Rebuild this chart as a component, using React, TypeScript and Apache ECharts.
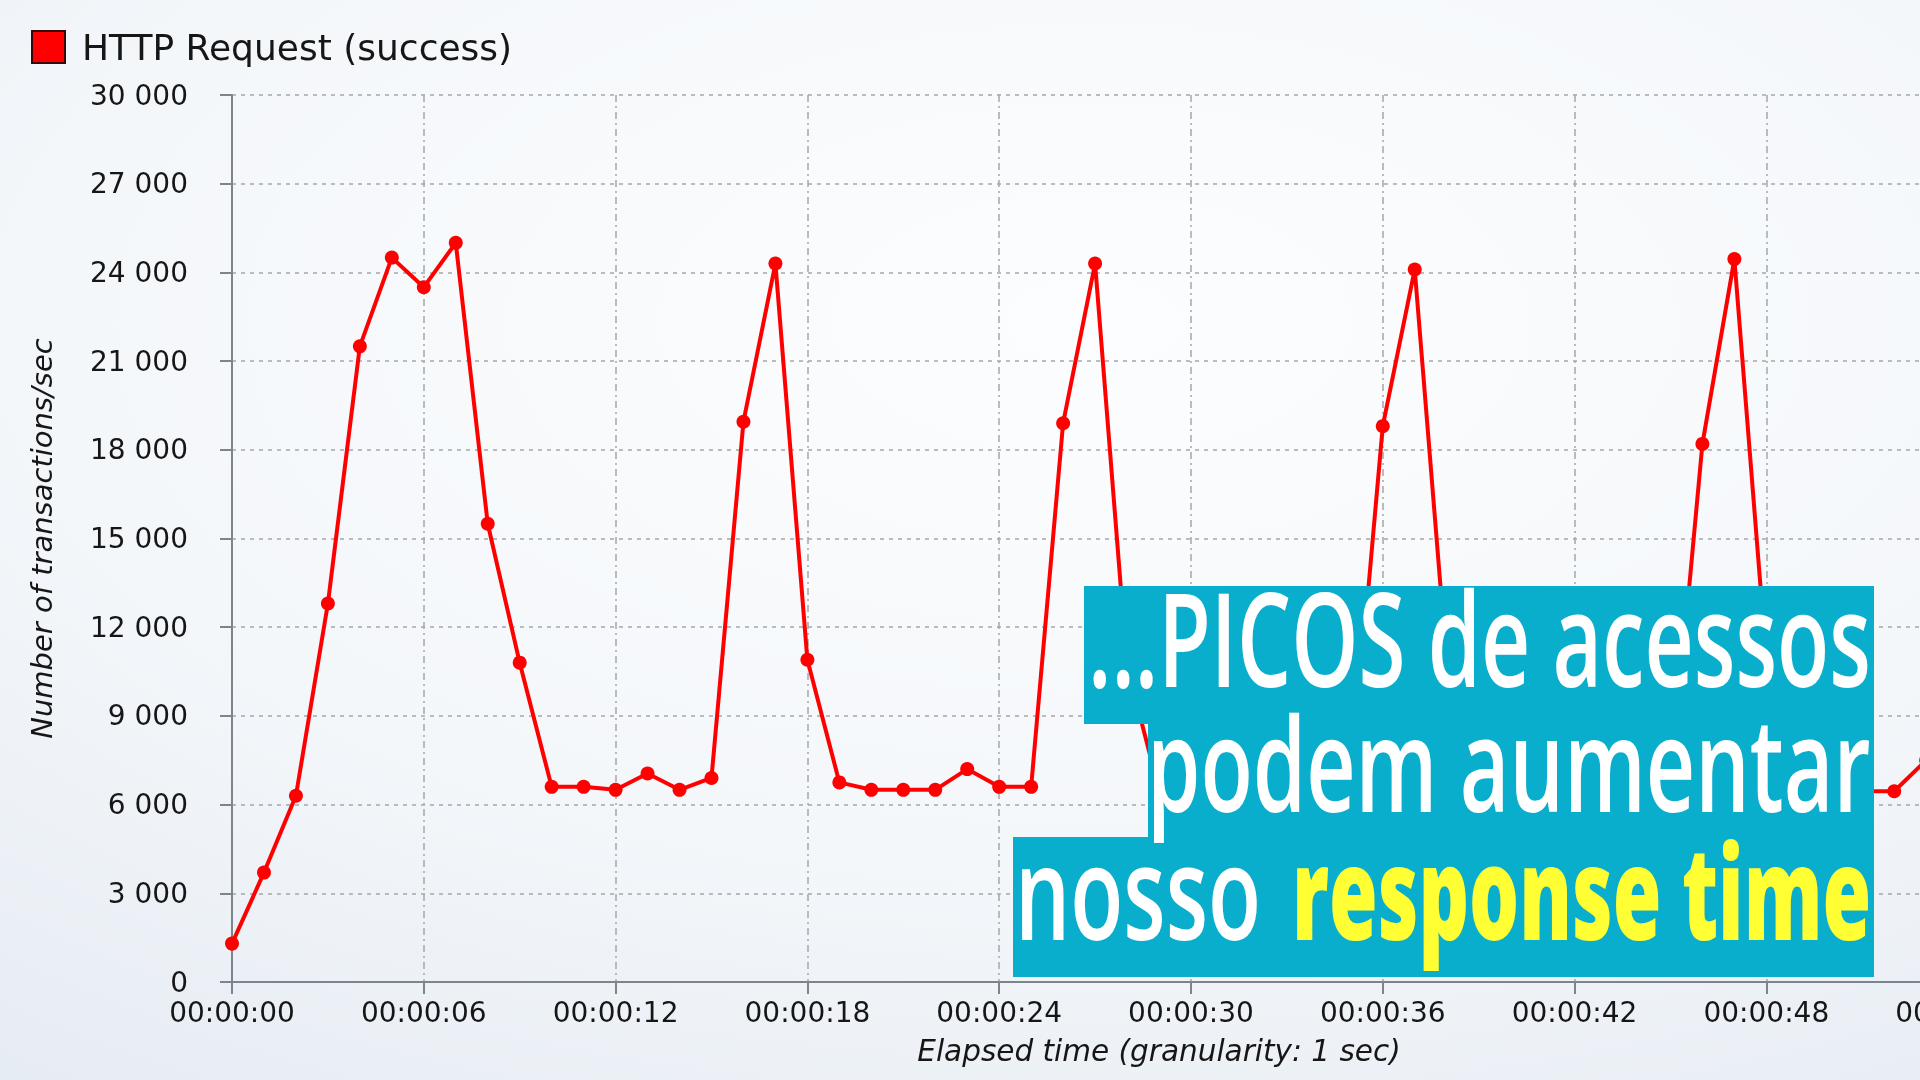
import React, { useEffect, useRef } from "react";
import * as echarts from "echarts";

// ---- data ----
const seriesName = "HTTP Request (success)";
const elapsedSeconds = [
  0, 1, 2, 3, 4, 5, 6, 7, 8, 9, 10, 11, 12, 13, 14, 15, 16, 17, 18, 19, 20, 21, 22, 23, 24, 25, 26,
  27, 28, 29, 30, 31, 32, 33, 34, 35, 36, 37, 38, 39, 40, 41, 42, 43, 44, 45, 46, 47, 48, 49, 50, 51,
  52, 53,
];
const transactionsPerSec = [
  1300, 3700, 6300, 12800, 21500, 24500, 23500, 25000, 15500, 10800, 6600, 6600, 6500, 7050, 6500,
  6900, 18950, 24300, 10900, 6750, 6500, 6500, 6500, 7200, 6600, 6600, 18900, 24300, 10700, 6500,
  6500, 6600, 6500, 7000, 6500, 6600, 18800, 24100, 10800, 6600, 6500, 6500, 6700, 6500, 6900, 6500,
  18200, 24450, 10900, 6700, 6500, 6450, 6450, 7500,
];
const yAxisTitle = "Number of transactions/sec";
const xAxisTitle = "Elapsed time (granularity: 1 sec)";
const yMin = 0;
const yMax = 30000;
const yStep = 3000;
const xMin = 0;
const xMax = 58;
const xStep = 6;

const overlayLine1 = "...PICOS de acessos";
const overlayLine2 = "podem aumentar";
const overlayLine3White = "nosso";
const overlayLine3Yellow = "response time";

const OVERLAY_FONT = "Open Sans";
const OVERLAY_SIZE = 130;
const CHART_WIDTH = 2100;

function measure(text: string, weight: number): number {
  const c = document.createElement("canvas").getContext("2d");
  if (!c) return text.length * OVERLAY_SIZE * 0.55;
  c.font = `${weight} ${OVERLAY_SIZE}px "${OVERLAY_FONT}"`;
  return c.measureText(text).width;
}

function thousands(v: number): string {
  return String(v).replace(/\B(?=(\d{3})+(?!\d))/g, " ");
}

function hms(v: number): string {
  const s = Math.round(v);
  const h = Math.floor(s / 3600);
  const m = Math.floor((s % 3600) / 60);
  const sec = s % 60;
  const p = (n: number) => String(n).padStart(2, "0");
  return `${p(h)}:${p(m)}:${p(sec)}`;
}

export default function App() {
  const ref = useRef<HTMLDivElement>(null);

  useEffect(() => {
    if (!ref.current) return;
    const chart = echarts.init(ref.current, undefined, { renderer: "svg" });

    const axisColor = "#7c848c";
    const textColor = "#161616";
    const gridColor = "#a6a6a6";
    const cyan = "#0aaecd";
    const centralOffset = 0.388 * OVERLAY_SIZE;

    const textEl = (
      text: string,
      left: number,
      right: number,
      baseline: number,
      color: string,
      weight: number
    ) => ({
      type: "text",
      x: left,
      y: baseline - centralOffset,
      scaleX: (right - left) / measure(text, weight),
      z: 110,
      style: {
        text,
        fill: color,
        fontFamily: OVERLAY_FONT,
        fontSize: OVERLAY_SIZE,
        fontWeight: weight,
        textAlign: "left",
        textVerticalAlign: "middle",
        verticalAlign: "middle",
      },
    });

    const option: any = {
      animation: false,
      backgroundColor: {
        type: "radial",
        x: 0.52,
        y: 0.3,
        r: 0.9,
        colorStops: [
          { offset: 0, color: "#fcfdfe" },
          { offset: 0.55, color: "#f4f7fa" },
          { offset: 1, color: "#e5ebf3" },
        ],
      },
      textStyle: { fontFamily: "DejaVu Sans" },
      legend: {
        show: true,
        data: [seriesName],
        left: 31,
        top: 29,
        padding: 0,
        icon: "rect",
        itemWidth: 33,
        itemHeight: 32,
        itemStyle: { color: "#ff0000", borderColor: "#3a0606", borderWidth: 2 },
        textStyle: {
          fontFamily: "DejaVu Sans",
          fontSize: 36,
          color: textColor,
          padding: [0, 0, 0, 12],
        },
      },
      grid: { left: 232, top: 95, right: CHART_WIDTH - 2086, bottom: 98 },
      xAxis: {
        type: "value",
        min: xMin,
        max: xMax,
        interval: xStep,
        name: xAxisTitle,
        nameLocation: "middle",
        nameGap: 54,
        nameTextStyle: {
          fontFamily: "DejaVu Sans",
          fontStyle: "italic",
          fontSize: 29.5,
          color: textColor,
        },
        axisLine: { show: true, onZero: false, lineStyle: { color: axisColor, width: 2 } },
        axisTick: { show: true, length: 12, lineStyle: { color: axisColor, width: 2 } },
        axisLabel: {
          fontFamily: "DejaVu Sans",
          fontSize: 28,
          color: textColor,
          margin: 16,
          showMaxLabel: false,
          formatter: (v: number) => hms(v),
        },
        splitLine: {
          show: true,
          lineStyle: { color: gridColor, width: 1.5, type: [7, 4, 2, 4] },
        },
      },
      yAxis: {
        type: "value",
        min: yMin,
        max: yMax,
        interval: yStep,
        name: yAxisTitle,
        nameLocation: "middle",
        nameGap: 176,
        nameTextStyle: {
          fontFamily: "DejaVu Sans",
          fontStyle: "italic",
          fontSize: 29,
          color: textColor,
        },
        axisLine: { show: true, lineStyle: { color: axisColor, width: 2 } },
        axisTick: { show: true, length: 12, lineStyle: { color: axisColor, width: 2 } },
        axisLabel: {
          fontFamily: "DejaVu Sans",
          fontSize: 28,
          color: textColor,
          margin: 44,
          formatter: (v: number) => thousands(v),
        },
        splitLine: {
          show: true,
          lineStyle: { color: gridColor, width: 1.5, type: [4, 5] },
        },
      },
      series: [
        {
          name: seriesName,
          type: "line",
          data: elapsedSeconds.map((s, i) => [s, transactionsPerSec[i]]),
          color: "#ff0000",
          lineStyle: { color: "#ff0000", width: 4 },
          itemStyle: { color: "#ff0000" },
          symbol: "circle",
          symbolSize: 14,
          showAllSymbol: true,
          clip: false,
          z: 5,
        },
      ],
      graphic: [
        { type: "rect", z: 100, shape: { x: 1084, y: 586, width: 790, height: 138 }, style: { fill: cyan } },
        { type: "rect", z: 100, shape: { x: 1148, y: 723, width: 726, height: 115 }, style: { fill: cyan } },
        { type: "rect", z: 100, shape: { x: 1013, y: 837, width: 861, height: 140 }, style: { fill: cyan } },
        textEl(overlayLine1, 1088, 1871, 687, "#ffffff", 600),
        textEl(overlayLine2, 1147, 1871, 812, "#ffffff", 600),
        textEl(overlayLine3White, 1015, 1261, 940, "#ffffff", 600),
        textEl(overlayLine3Yellow, 1292, 1871, 940, "#ffff33", 800),
      ],
    };

    chart.setOption(option);
    return () => chart.dispose();
  }, []);

  return (
    <div
      style={{
        position: "fixed",
        left: 0,
        top: 0,
        width: 1920,
        height: 1080,
        overflow: "hidden",
      }}
    >
      <div ref={ref} style={{ width: CHART_WIDTH, height: 1080 }} />
    </div>
  );
}
